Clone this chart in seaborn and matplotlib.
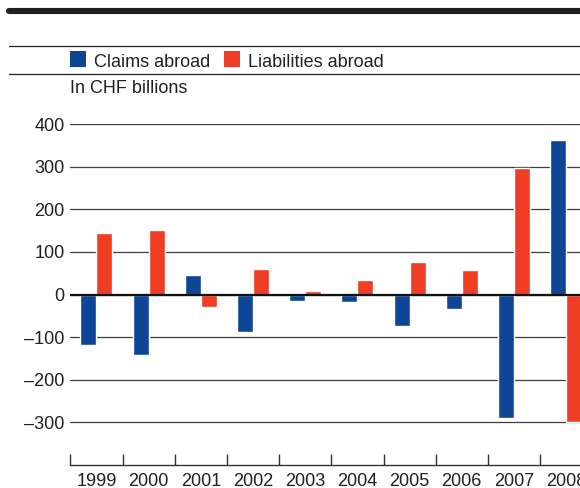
import matplotlib
matplotlib.use("Agg")
import matplotlib.pyplot as plt
from matplotlib.patches import Rectangle
from matplotlib.lines import Line2D
import seaborn as sns
import pandas as pd

# Change in Swiss banks' foreign positions, CHF billions
years = ["1999", "2000", "2001", "2002", "2003", "2004", "2005", "2006", "2007", "2008"]
claims = [-118, -141, 46, -87, -15, -17, -73, -34, -290, 363]
liabilities = [145, 152, -29, 60, 9, 34, 77, 58, 297, -300]
series_names = ["Claims abroad", "Liabilities abroad"]
y_ticks = [-300, -200, -100, 0, 100, 200, 300, 400]
y_tick_labels = [str(v).replace("-", "\u2013") for v in y_ticks]
unit_label = "In CHF billions"

BLUE = "#0e4596"
RED = "#f03e24"
INK = "#231f20"

df = pd.DataFrame({
    "year": years * 2,
    "value": claims + liabilities,
    "series": [series_names[0]] * len(years) + [series_names[1]] * len(years),
})

sns.set_theme(style="white")
plt.rcParams["font.family"] = ["Liberation Sans", "DejaVu Sans"]
plt.rcParams["text.color"] = INK

W, H = 580, 488
fig = plt.figure(figsize=(W / 100, H / 100), dpi=100)

# axes placed in pixel terms; the last category runs past the right edge
left_px, cat_px, top_px, bottom_px = 70.3, 52.2, 124, 465
ax = fig.add_axes([left_px / W, (H - bottom_px) / H,
                   10 * cat_px / W, (bottom_px - top_px) / H])

sns.barplot(data=df, x="year", y="value", hue="series", order=years,
            hue_order=series_names, palette=[BLUE, RED], saturation=1,
            width=0.613, legend=False, ax=ax, zorder=2)

ax.set_xlim(-0.5, len(years) - 0.5)
ax.set_ylim(-400, 400)
ax.set_xlabel("")
ax.set_ylabel("")

# horizontal rules
ax.set_yticks(y_ticks)
ax.set_yticklabels(y_tick_labels)
ax.yaxis.grid(True, color="#3c3c3c", linewidth=0.9, zorder=0)
ax.set_axisbelow(True)
ax.axhline(0, color="#111111", linewidth=1.6, zorder=3)
ax.tick_params(axis="y", length=0, pad=4, labelsize=13, labelcolor=INK)

# category labels centred, boundary ticks rising from the base line
ax.set_xticks(range(len(years)))
ax.set_xticklabels(years)
ax.set_xticks([i - 0.5 for i in range(len(years))], minor=True)
ax.tick_params(axis="x", which="major", length=0, pad=6, labelsize=13, labelcolor=INK)
ax.tick_params(axis="x", which="minor", direction="in", length=8, width=1,
               color="#333333", bottom=True)

for side in ["top", "right", "left"]:
    ax.spines[side].set_visible(False)
ax.spines["bottom"].set_color("#333333")
ax.spines["bottom"].set_linewidth(1)

# header rules
def fy(px):
    return (H - px) / H

fig.add_artist(Line2D([9 / W, 1], [fy(11), fy(11)], color=INK, linewidth=4.4,
                      transform=fig.transFigure))
for y in (45.5, 74):
    fig.add_artist(Line2D([9 / W, 1], [fy(y), fy(y)], color=INK, linewidth=0.9,
                          transform=fig.transFigure))

# legend swatches and labels
for x0, color, name, tx in [(70, BLUE, series_names[0], 94),
                            (224, RED, series_names[1], 248.3)]:
    fig.add_artist(Rectangle((x0 / W, fy(66.7)), 16 / W, 15.7 / H,
                             facecolor=color, edgecolor="none",
                             transform=fig.transFigure))
    fig.text(tx / W, fy(66.7), name, fontsize=13, color=INK, va="baseline", ha="left")

fig.text(70.5 / W, fy(93.3), unit_label, fontsize=13, color=INK, va="baseline", ha="left")

fig.savefig("out.png", dpi=100)
